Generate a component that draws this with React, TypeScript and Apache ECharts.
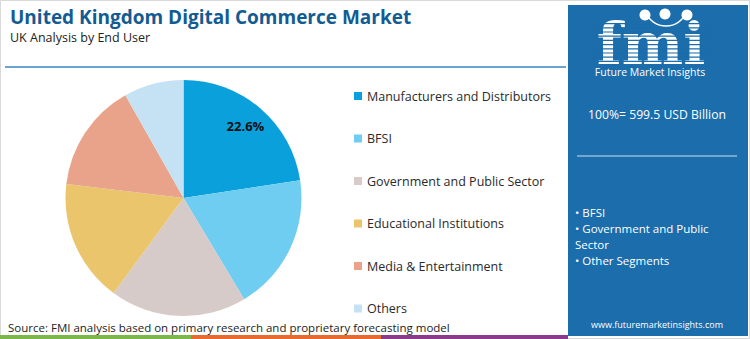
import React, { useEffect, useRef } from "react";
import * as echarts from "echarts";

const categories = [
  "Manufacturers and Distributors",
  "BFSI",
  "Government and Public Sector",
  "Educational Institutions",
  "Media & Entertainment",
  "Others",
];
const shares = [22.6, 18.8, 18.7, 16.8, 14.9, 8.2];
const colors = ["#0aa0dc", "#6ecdf0", "#d6cbc8", "#eac56c", "#e9a38b", "#c4e2f3"];
const labelledIndex = [0];

const title = "United Kingdom Digital Commerce Market";
const subtitle = "UK Analysis by End User";
const totalText = "100%= 599.5 USD Billion";
const bulletLines = ["• BFSI", "• Government and Public", "Sector", "• Other Segments"];
const sourceText = "Source: FMI analysis based on primary research and proprietary forecasting model";
const siteText = "www.futuremarketinsights.com";

const FONT = "Open Sans";
const PANEL = "#1b6dab";

export default function App() {
  const ref = useRef<HTMLDivElement>(null);
  useEffect(() => {
    if (!ref.current) return;
    const chart = echarts.init(ref.current, null, { renderer: "svg" });

    const stripes: any[] = [];
    for (let i = 0; i < 10; i++) {
      stripes.push({
        type: "rect",
        shape: { x: 594, y: 23 + i * 4.2, width: 116, height: 1.2 },
        style: { fill: PANEL },
        z: 20,
      });
    }

    chart.setOption({
      animation: false,
      backgroundColor: "#ffffff",
      textStyle: { fontFamily: FONT },
      legend: {
        orient: "vertical",
        left: 349,
        top: 83,
        itemWidth: 8,
        itemHeight: 8,
        itemGap: 26.5,
        icon: "rect",
        data: categories,
        textStyle: { fontSize: 12.5, color: "#2a2a2a", lineHeight: 16, fontFamily: FONT },
        selectedMode: false,
      },
      series: [
        {
          type: "pie",
          center: [183.5, 198],
          radius: 118,
          startAngle: 90,
          clockwise: true,
          silent: true,
          label: { show: false },
          labelLine: { show: false },
          itemStyle: { borderWidth: 0 },
          emphasis: { disabled: true },
          data: categories.map((name, i) => ({
            name,
            value: shares[i],
            itemStyle: { color: colors[i] },
          })),
        },
        {
          type: "pie",
          center: [183.5, 198],
          radius: [66, 118],
          startAngle: 90,
          clockwise: true,
          silent: true,
          labelLine: { show: false },
          emphasis: { disabled: true },
          itemStyle: { color: "rgba(0,0,0,0)", borderWidth: 0 },
          label: { show: false },
          data: categories.map((name, i) => ({
            name: name + " ",
            value: shares[i],
            label: {
              show: labelledIndex.includes(i),
              position: "inside",
              formatter: "{c}%",
              fontSize: 13,
              fontWeight: "bold",
              color: "#111",
              fontFamily: FONT,
            },
          })),
        },
      ],
      graphic: [
        {
          type: "rect",
          shape: { x: 0.5, y: 0.5, width: 749, height: 338 },
          style: { fill: "none", stroke: "#d9d9d9", lineWidth: 1 },
          z: 1,
        },
        {
          type: "text",
          x: 10,
          y: 17,
          style: {
            text: title,
            fontSize: 19,
            fontWeight: "bold",
            fill: "#135b93",
            fontFamily: FONT,
            verticalAlign: "middle",
          },
        },
        {
          type: "text",
          x: 10,
          y: 37,
          style: { text: subtitle, fontSize: 12.5, fill: "#222", fontFamily: FONT, verticalAlign: "middle" },
        },
        {
          type: "line",
          shape: { x1: 5, y1: 67, x2: 566, y2: 67 },
          style: { stroke: "#3a86c0", lineWidth: 1.5 },
        },
        {
          type: "rect",
          shape: { x: 568, y: 5, width: 180, height: 331 },
          style: { fill: PANEL },
          z: 10,
        },
        {
          type: "text",
          x: 651,
          y: 64,
          style: {
            text: "fmi",
            fontSize: 58,
            lineHeight: 40,
            fontWeight: "bold",
            fill: "#ffffff",
            fontFamily: "DejaVu Serif",
            align: "center",
            verticalAlign: "bottom",
          },
          z: 15,
        },
        ...stripes,
        {
          type: "arc",
          shape: { cx: 666, cy: 4, r: 22, startAngle: 0.35, endAngle: Math.PI - 0.35 },
          style: { stroke: "#fff", lineWidth: 1.5, fill: "none" },
          z: 21,
        },
        { type: "circle", shape: { cx: 645, cy: 15, r: 5.5 }, style: { fill: "#fff" }, z: 22 },
        { type: "circle", shape: { cx: 665, cy: 14, r: 5.5 }, style: { fill: "#fff" }, z: 22 },
        { type: "circle", shape: { cx: 687, cy: 15, r: 5.5 }, style: { fill: "#fff" }, z: 22 },
        {
          type: "text",
          x: 650,
          y: 72,
          style: {
            text: "Future Market Insights",
            fontSize: 10.5,
            fill: "#ffffff",
            fontFamily: FONT,
            align: "center",
            verticalAlign: "middle",
          },
          z: 21,
        },
        {
          type: "text",
          x: 657,
          y: 114,
          style: {
            text: totalText,
            fontSize: 12.2,
            fill: "#ffffff",
            fontFamily: FONT,
            align: "center",
            verticalAlign: "middle",
          },
          z: 21,
        },
        {
          type: "line",
          shape: { x1: 577, y1: 156, x2: 737, y2: 156 },
          style: { stroke: "#cfe0ee", lineWidth: 1 },
          z: 21,
        },
        ...bulletLines.map((t, i) => ({
          type: "text",
          x: 575,
          y: 212 + i * 16,
          style: {
            text: t,
            fontSize: 11.5,
            fill: "#ffffff",
            fontFamily: FONT,
            align: "left",
            verticalAlign: "middle",
          },
          z: 21,
        })),
        {
          type: "text",
          x: 657,
          y: 324,
          style: {
            text: siteText,
            fontSize: 9,
            fill: "#ffffff",
            fontFamily: FONT,
            align: "center",
            verticalAlign: "middle",
          },
          z: 21,
        },
        {
          type: "text",
          x: 8,
          y: 327,
          style: {
            text: sourceText,
            fontSize: 11.5,
            fill: "#222",
            fontFamily: FONT,
            align: "left",
            verticalAlign: "middle",
          },
        },
        { type: "rect", shape: { x: 0, y: 335, width: 191, height: 4 }, style: { fill: "#7cb749" }, z: 5 },
        { type: "rect", shape: { x: 191, y: 335, width: 190, height: 4 }, style: { fill: "#e86a2f" }, z: 5 },
        { type: "rect", shape: { x: 381, y: 335, width: 187, height: 4 }, style: { fill: "#8c3b8c" }, z: 5 },
      ],
    });
    return () => chart.dispose();
  }, []);
  return (
    <div
      ref={ref}
      style={{ position: "fixed", left: 0, top: 0, width: 750, height: 339 }}
    />
  );
}
